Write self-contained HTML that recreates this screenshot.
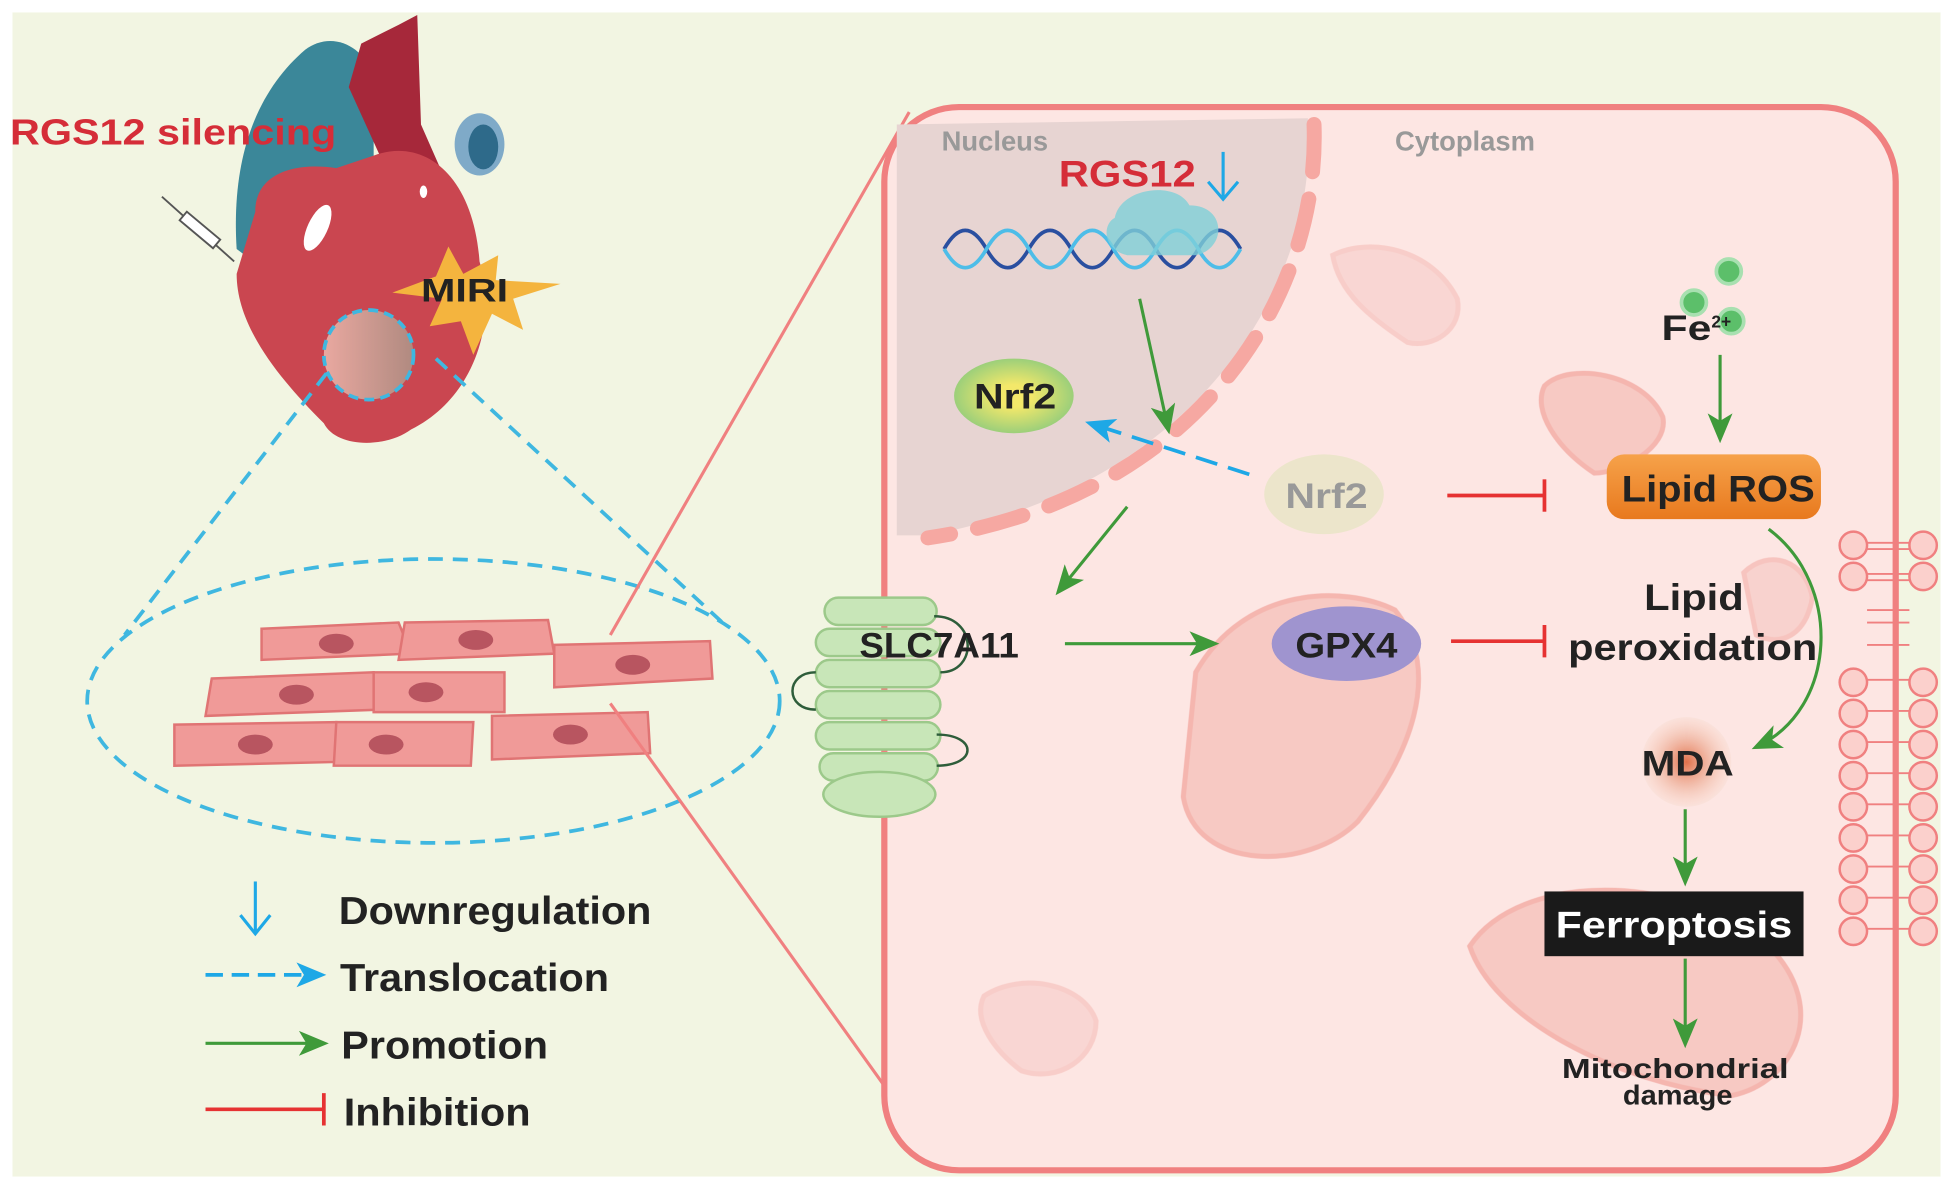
<!DOCTYPE html>
<html><head><meta charset="utf-8"><style>
html,body{margin:0;padding:0;background:#fff}
svg{display:block}
text{font-family:"Liberation Sans",Arial,sans-serif;font-weight:bold}
</style></head><body>
<svg width="1953" height="1189" viewBox="0 0 1568 955" preserveAspectRatio="none" xmlns="http://www.w3.org/2000/svg">
<defs>
<marker id="b" markerWidth="24" markerHeight="20" refX="20" refY="10" orient="auto" markerUnits="userSpaceOnUse"><path d="M0,0 L24,10 L0,20 L6,10 z" fill="#1ea8e6"/></marker>
<marker id="g2" markerWidth="24" markerHeight="20" refX="20" refY="10" orient="auto" markerUnits="userSpaceOnUse"><path d="M0,0 L24,10 L0,20 L6,10 z" fill="#3f9a3a"/></marker>
<radialGradient id="mda"><stop offset="0" stop-color="#e0704a"/><stop offset="1" stop-color="#f7d7c8" stop-opacity="0.3"/></radialGradient>
<radialGradient id="nrf"><stop offset="0.3" stop-color="#f3e86a"/><stop offset="1" stop-color="#9ccf7a"/></radialGradient>
<linearGradient id="ros" x1="0" x2="0" y1="0" y2="1"><stop offset="0" stop-color="#f6a24a"/><stop offset="1" stop-color="#e8791e"/></linearGradient>
<linearGradient id="spot" x1="0" x2="1"><stop offset="0" stop-color="#e9a8a0"/><stop offset="1" stop-color="#b08a80"/></linearGradient>
</defs>
<rect x="0" y="0" width="1568" height="955" fill="#fff"/>
<rect x="10" y="10" width="1548" height="935" fill="#f2f5e2"/>

<!-- heart -->
<path d="M190,200 C185,120 210,70 245,40 C265,25 290,35 300,60 L300,140 L230,230 Z" fill="#3b8799"/>
<path d="M280,70 L290,35 L320,20 L335,12 L338,100 L360,150 L330,180 Z" fill="#a6283a"/>
<ellipse cx="385" cy="116" rx="20" ry="25" fill="#7faac8"/>
<ellipse cx="388" cy="118" rx="12" ry="18" fill="#2e6a8a"/>
<path d="M205,170 C205,140 235,130 270,135 L300,125 C340,110 380,140 385,210 C400,260 380,320 330,345 C310,360 270,360 260,340 C220,300 190,260 190,220 Z" fill="#ca4650"/>
<ellipse cx="255" cy="183" rx="8" ry="20" transform="rotate(25 255 183)" fill="#fff"/>
<ellipse cx="340" cy="154" rx="3" ry="5" fill="#fff"/>
<circle cx="296" cy="285" r="36" fill="url(#spot)" stroke="#3fb7e0" stroke-width="3" stroke-dasharray="8,5"/>
<polygon points="360,198 372,220 400,205 398,225 450,228 412,240 420,265 395,252 380,285 370,258 345,262 355,240 315,235 350,222" fill="#f4b43e"/>
<text x="338" y="242" font-size="26" fill="#222" textLength="70" lengthAdjust="spacingAndGlyphs">MIRI</text>
<g stroke="#555" stroke-width="1.5" fill="#fff"><line x1="130" y1="158" x2="188" y2="210"/><rect x="150" y="170" width="35" height="9" transform="rotate(40 150 170)"/></g>
<text x="8" y="116" font-size="29" fill="#d52d38" textLength="262" lengthAdjust="spacingAndGlyphs">RGS12 silencing</text>

<!-- dashed zoom -->
<g stroke="#3fb7e0" stroke-width="3" stroke-dasharray="12,8" fill="none">
<line x1="262" y1="300" x2="100" y2="510"/><line x1="350" y1="288" x2="580" y2="500"/>
<ellipse cx="348" cy="563" rx="278" ry="114"/>
</g>
<g fill="#f09a98" stroke="#e07474" stroke-width="2">
<path d="M210,505 L320,500 L330,525 L210,530 Z"/><path d="M325,500 L440,498 L445,525 L320,530 Z"/>
<path d="M445,518 L570,515 L572,545 L445,552 Z"/>
<path d="M170,545 L300,540 L305,570 L165,575 Z"/><path d="M300,540 L405,540 L405,572 L300,572 Z"/>
<path d="M140,582 L270,580 L270,612 L140,615 Z"/><path d="M270,580 L380,580 L378,615 L268,615 Z"/>
<path d="M395,575 L520,572 L522,605 L395,610 Z"/>
</g>
<g fill="#b85560"><ellipse cx="270" cy="517" rx="14" ry="8"/><ellipse cx="382" cy="514" rx="14" ry="8"/><ellipse cx="508" cy="534" rx="14" ry="8"/><ellipse cx="238" cy="558" rx="14" ry="8"/><ellipse cx="342" cy="556" rx="14" ry="8"/><ellipse cx="205" cy="598" rx="14" ry="8"/><ellipse cx="310" cy="598" rx="14" ry="8"/><ellipse cx="458" cy="590" rx="14" ry="8"/></g>
<line x1="490" y1="510" x2="730" y2="90" stroke="#f08080" stroke-width="2.5"/>
<line x1="490" y1="565" x2="730" y2="900" stroke="#f08080" stroke-width="2.5"/>

<!-- legend -->
<line x1="205" y1="708" x2="205" y2="748" stroke="#1ea8e6" stroke-width="2.5"/><path d="M193,735 L205,750 L217,735" fill="none" stroke="#1ea8e6" stroke-width="2.5"/>
<text x="272" y="742" font-size="31" fill="#222" textLength="251" lengthAdjust="spacingAndGlyphs">Downregulation</text>
<line x1="165" y1="783" x2="258" y2="783" stroke="#1ea8e6" stroke-width="3" stroke-dasharray="14,7" marker-end="url(#b)"/>
<text x="273" y="796" font-size="31" fill="#222" textLength="216" lengthAdjust="spacingAndGlyphs">Translocation</text>
<line x1="165" y1="838" x2="260" y2="838" stroke="#3f9a3a" stroke-width="2.5" marker-end="url(#g2)"/>
<text x="274" y="850" font-size="31" fill="#222" textLength="166" lengthAdjust="spacingAndGlyphs">Promotion</text>
<line x1="165" y1="891" x2="260" y2="891" stroke="#e63232" stroke-width="3"/><line x1="260" y1="878" x2="260" y2="904" stroke="#e63232" stroke-width="3"/>
<text x="276" y="904" font-size="31" fill="#222" textLength="150" lengthAdjust="spacingAndGlyphs">Inhibition</text>

<!-- cell -->
<rect x="710" y="86" width="812" height="854" rx="60" fill="#fde6e3" stroke="#f08080" stroke-width="5"/>
<path d="M720,100 L1050,95 C1060,230 960,390 745,430 L720,430 Z" fill="#e7d4d2"/>
<path d="M1055,100 C1060,240 960,400 745,432" fill="none" stroke="#f6a8a2" stroke-width="12" stroke-dasharray="38,22" stroke-linecap="round"/>
<text x="756" y="121" font-size="22" fill="#999" font-weight="normal">Nucleus</text>
<text x="1120" y="121" font-size="22" fill="#999" font-weight="normal">Cytoplasm</text>
<g fill="#f6c6c0" stroke="#f4b0aa" stroke-width="4" opacity="0.9">
<path d="M960,540 C1000,470 1080,470 1120,490 C1160,540 1130,610 1090,660 C1050,700 960,700 950,640 Z"/>
<path d="M1180,760 C1220,700 1350,700 1420,760 C1470,810 1440,870 1390,880 C1300,870 1200,820 1180,760 Z"/>
<path d="M1240,310 C1260,290 1320,300 1335,335 C1340,360 1300,380 1280,380 C1250,360 1230,330 1240,310 Z"/>
<path d="M1070,205 C1100,190 1150,200 1170,240 C1175,265 1150,280 1130,275 C1100,255 1075,235 1070,205 Z" opacity="0.5"/>
<path d="M790,800 C820,780 870,790 880,820 C880,850 850,870 820,860 C800,845 780,820 790,800 Z" opacity="0.5"/>
<path d="M1400,460 C1420,440 1450,450 1455,480 C1450,510 1430,520 1410,510 Z" opacity="0.7"/>
</g>
<g fill="none" stroke-width="3">
<path d="M758,200 Q775,170 792,200 T826,200 T860,200 T894,200 T928,200 T962,200 T996,200" stroke="#2a4fa0"/>
<path d="M758,200 Q775,230 792,200 T826,200 T860,200 T894,200 T928,200 T962,200 T996,200" stroke="#4dbde8"/>
</g>
<path d="M895,175 C900,150 945,145 955,165 C985,165 985,200 960,205 L905,205 C885,200 885,180 895,175 Z" fill="#7fd0d8" opacity="0.8"/>
<text x="850" y="150" font-size="30" fill="#d52d38" textLength="110" lengthAdjust="spacingAndGlyphs">RGS12</text>
<line x1="982" y1="122" x2="982" y2="158" stroke="#1ea8e6" stroke-width="2.5"/><path d="M970,146 L982,160 L994,146" fill="none" stroke="#1ea8e6" stroke-width="2.5"/>
<ellipse cx="814" cy="318" rx="48" ry="30" fill="url(#nrf)"/>
<text x="782" y="328" font-size="28" fill="#222" textLength="66" lengthAdjust="spacingAndGlyphs">Nrf2</text>
<line x1="915" y1="240" x2="938" y2="345" stroke="#3f9a3a" stroke-width="2.5" marker-end="url(#g2)"/>
<line x1="1003" y1="381" x2="875" y2="340" stroke="#1ea8e6" stroke-width="3" stroke-dasharray="18,9" marker-end="url(#b)"/>
<ellipse cx="1063" cy="397" rx="48" ry="32" fill="#eae4c8" opacity="0.9"/>
<text x="1032" y="408" font-size="28" fill="#999" textLength="66" lengthAdjust="spacingAndGlyphs">Nrf2</text>
<line x1="1162" y1="398" x2="1240" y2="398" stroke="#e63232" stroke-width="3"/><line x1="1240" y1="385" x2="1240" y2="411" stroke="#e63232" stroke-width="3"/>
<line x1="905" y1="407" x2="850" y2="475" stroke="#3f9a3a" stroke-width="2.5" marker-end="url(#g2)"/>
<g fill="#c8e6b8" stroke="#9cc98a" stroke-width="2">
<rect x="662" y="480" width="90" height="22" rx="11"/><rect x="655" y="505" width="100" height="22" rx="11"/><rect x="655" y="530" width="100" height="22" rx="11"/><rect x="655" y="555" width="100" height="22" rx="11"/><rect x="655" y="580" width="100" height="22" rx="11"/><rect x="658" y="605" width="95" height="22" rx="11"/>
<ellipse cx="706" cy="638" rx="45" ry="18"/>
</g>
<g fill="none" stroke="#2e5d3a" stroke-width="2"><path d="M750,495 C785,495 785,540 755,540"/><path d="M655,540 C630,540 630,570 655,570"/><path d="M752,590 C785,590 785,615 752,615"/></g>
<text x="690" y="528" font-size="28" fill="#222" textLength="128" lengthAdjust="spacingAndGlyphs">SLC7A11</text>
<line x1="855" y1="517" x2="975" y2="517" stroke="#3f9a3a" stroke-width="2.5" marker-end="url(#g2)"/>
<ellipse cx="1081" cy="517" rx="60" ry="30" fill="#9f94cf"/>
<text x="1040" y="528" font-size="28" fill="#222" textLength="82" lengthAdjust="spacingAndGlyphs">GPX4</text>
<line x1="1165" y1="515" x2="1240" y2="515" stroke="#e63232" stroke-width="3"/><line x1="1240" y1="502" x2="1240" y2="528" stroke="#e63232" stroke-width="3"/>
<text x="1320" y="490" font-size="30" fill="#222" textLength="80" lengthAdjust="spacingAndGlyphs">Lipid</text>
<text x="1259" y="530" font-size="30" fill="#222" textLength="200" lengthAdjust="spacingAndGlyphs">peroxidation</text>
<circle cx="1388" cy="218" r="10" fill="#5cbf6a" stroke="#a8e0b0" stroke-width="3"/>
<circle cx="1360" cy="243" r="10" fill="#5cbf6a" stroke="#a8e0b0" stroke-width="3"/>
<circle cx="1390" cy="258" r="10" fill="#5cbf6a" stroke="#a8e0b0" stroke-width="3"/>
<text x="1334" y="273" font-size="28" fill="#222" textLength="40" lengthAdjust="spacingAndGlyphs">Fe</text><text x="1374" y="263" font-size="14" fill="#222">2+</text>
<line x1="1381" y1="285" x2="1381" y2="352" stroke="#3f9a3a" stroke-width="2.5" marker-end="url(#g2)"/>
<rect x="1290" y="365" width="172" height="52" rx="14" fill="url(#ros)"/>
<text x="1302" y="403" font-size="30" fill="#222" textLength="155" lengthAdjust="spacingAndGlyphs">Lipid ROS</text>
<path d="M1420,425 C1480,470 1475,570 1410,600" fill="none" stroke="#3f9a3a" stroke-width="2.5" marker-end="url(#g2)"/>
<circle cx="1354" cy="612" r="36" fill="url(#mda)"/>
<text x="1318" y="623" font-size="28" fill="#222" textLength="74" lengthAdjust="spacingAndGlyphs">MDA</text>
<line x1="1353" y1="650" x2="1353" y2="708" stroke="#3f9a3a" stroke-width="2.5" marker-end="url(#g2)"/>
<rect x="1240" y="716" width="208" height="52" fill="#1a1a1a"/>
<text x="1249" y="753" font-size="30" fill="#fff" textLength="190" lengthAdjust="spacingAndGlyphs">Ferroptosis</text>
<line x1="1353" y1="770" x2="1353" y2="838" stroke="#3f9a3a" stroke-width="2.5" marker-end="url(#g2)"/>
<text x="1345" y="866" font-size="22" fill="#222" text-anchor="middle" textLength="182" lengthAdjust="spacingAndGlyphs">Mitochondrial</text>
<text x="1347" y="887" font-size="22" fill="#222" text-anchor="middle" textLength="88" lengthAdjust="spacingAndGlyphs">damage</text>
<g fill="#fbd0cc" stroke="#f08080" stroke-width="2">
<circle cx="1488" cy="438" r="11"/><circle cx="1488" cy="463" r="11"/><circle cx="1544" cy="438" r="11"/><circle cx="1544" cy="463" r="11"/>
<circle cx="1488" cy="548" r="11"/><circle cx="1544" cy="548" r="11"/><circle cx="1488" cy="573" r="11"/><circle cx="1544" cy="573" r="11"/>
<circle cx="1488" cy="598" r="11"/><circle cx="1544" cy="598" r="11"/><circle cx="1488" cy="623" r="11"/><circle cx="1544" cy="623" r="11"/>
<circle cx="1488" cy="648" r="11"/><circle cx="1544" cy="648" r="11"/><circle cx="1488" cy="673" r="11"/><circle cx="1544" cy="673" r="11"/>
<circle cx="1488" cy="698" r="11"/><circle cx="1544" cy="698" r="11"/><circle cx="1488" cy="723" r="11"/><circle cx="1544" cy="723" r="11"/>
<circle cx="1488" cy="748" r="11"/><circle cx="1544" cy="748" r="11"/>
</g>
<g stroke="#f08080" stroke-width="1.5">
<line x1="1499" y1="436" x2="1533" y2="436"/><line x1="1499" y1="441" x2="1533" y2="441"/><line x1="1499" y1="461" x2="1533" y2="461"/><line x1="1499" y1="466" x2="1533" y2="466"/>
<line x1="1499" y1="490" x2="1533" y2="490"/><line x1="1499" y1="500" x2="1533" y2="500"/><line x1="1499" y1="518" x2="1533" y2="518"/>
<line x1="1499" y1="546" x2="1533" y2="546"/><line x1="1499" y1="571" x2="1533" y2="571"/><line x1="1499" y1="596" x2="1533" y2="596"/><line x1="1499" y1="621" x2="1533" y2="621"/><line x1="1499" y1="646" x2="1533" y2="646"/><line x1="1499" y1="671" x2="1533" y2="671"/><line x1="1499" y1="696" x2="1533" y2="696"/><line x1="1499" y1="721" x2="1533" y2="721"/><line x1="1499" y1="746" x2="1533" y2="746"/>
</g>
</svg>
</body></html>
